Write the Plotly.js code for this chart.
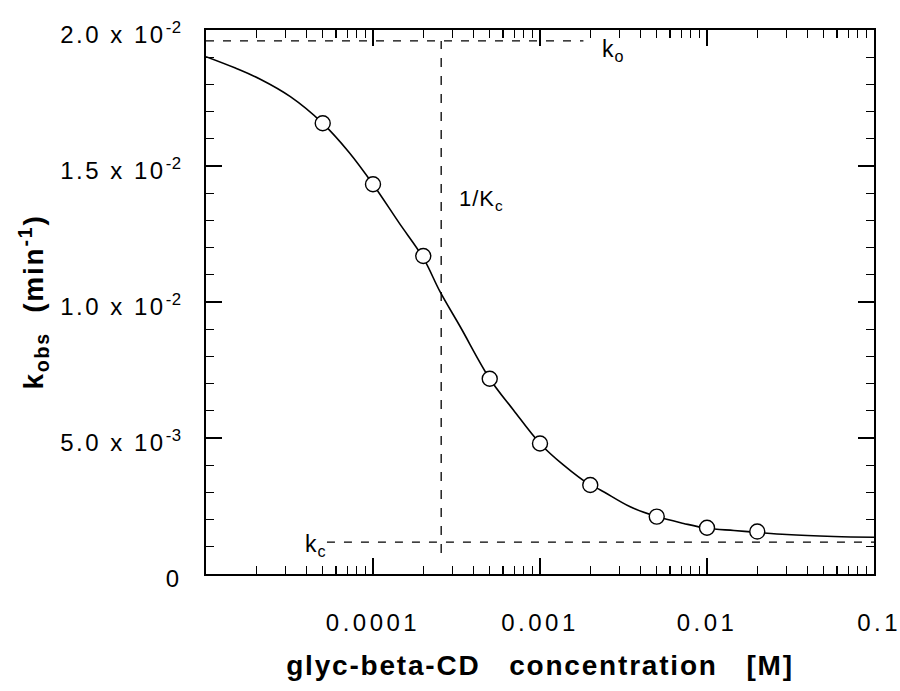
<!DOCTYPE html>
<html>
<head>
<meta charset="utf-8">
<script src="https://cdn.plot.ly/plotly-3.0.1.min.js"></script>
<style>
  html, body { margin: 0; padding: 0; background: #fff; }
  #chart { width: 900px; height: 691px; }
  .xtick text { letter-spacing: 3.5px; }
  .ytick text { letter-spacing: 2.5px; translate: 0 5px; }
  .ytick text tspan { letter-spacing: 0.5px; }
  text.xtitle, text.ytitle { letter-spacing: 1.8px; }
  .annotation-text { letter-spacing: 1px; }
</style>
</head>
<body>
<div id="chart"></div>
<script>
// ---- data ----
const concentration = [5e-5, 1e-4, 2e-4, 5e-4, 1e-3, 2e-3, 5e-3, 1e-2, 2e-2];   // M
const kObs = [0.01657, 0.01433, 0.01169, 0.00718, 0.00480, 0.00327, 0.00211, 0.00170, 0.00156]; // min^-1

// fitted curve
const fitX = [1e-5, 1.5e-5, 2.1e-5, 3.2e-5, 5e-5, 7.2e-5, 1e-4, 1.44e-4, 2e-4, 2.52e-4, 3.33e-4, 5e-4,
              6.93e-4, 1e-3, 1.38e-3, 2e-3, 2.3e-3, 3.47e-3, 5e-3, 7.24e-3, 1e-2, 1.45e-2, 2e-2, 3e-2, 5.75e-2, 0.1];
const fitY = [0.01902, 0.01860, 0.01820, 0.01755, 0.01657, 0.01550, 0.01433, 0.01289, 0.01162, 0.01038, 0.00909, 0.00718,
              0.00603, 0.00480, 0.00401, 0.00327, 0.00309, 0.00247, 0.00211, 0.00186, 0.00168, 0.00160, 0.00153, 0.00145, 0.00138, 0.00135];

// reference levels
const k0 = 0.0196;
const kc = 0.00117;
const invKc = 2.56e-4;
const k0LineX = [1e-5, 1.82e-3];
const kcLineX = [5.3e-5, 0.1];
const invKcLineY = [0.00077, k0];

// tick labels
const xTickVals = [1e-5, 1e-4, 1e-3, 1e-2, 1e-1];
const xTickText = ["", "0.0001", "0.001", "0.01", "\u00a00.1"];
const yTickVals = [0, 0.005, 0.01, 0.015, 0.02];
const yTickText = ["0", "5.0 x 10<sup>-3</sup>", "1.0 x 10<sup>-2</sup>", "1.5 x 10<sup>-2</sup>", "2.0 x 10<sup>-2</sup>"];
const decades = [1e-5, 1e-4, 1e-3, 1e-2];
const minorMult = [2, 3, 4, 5, 6, 7, 8, 9];
const xMinor = [];
decades.forEach(d => minorMult.forEach(m => xMinor.push(m * d)));
const yMinorStep = 0.001;
const yMinor = [];
for (let i = 1; i < 20; i++) yMinor.push(i * yMinorStep);

const FONT = "Liberation Sans, Arial, Helvetica, sans-serif";

const dashStyle = {color: "black", width: 1.3, dash: "8px,9px"};

const traces = [
  {x: k0LineX, y: [k0, k0], mode: "lines", line: dashStyle, hoverinfo: "skip", showlegend: false},
  {x: kcLineX, y: [kc, kc], mode: "lines", line: dashStyle, hoverinfo: "skip", showlegend: false},
  {x: [invKc, invKc], y: invKcLineY, mode: "lines", line: {color: "black", width: 1.3, dash: "9px,9px"}, hoverinfo: "skip", showlegend: false},
  {x: fitX, y: fitY, mode: "lines", line: {color: "black", width: 1.6, shape: "spline", smoothing: 1}, showlegend: false},
  {x: concentration, y: kObs, mode: "markers",
   marker: {symbol: "circle", size: 15, color: "white", line: {color: "black", width: 1.4}}, showlegend: false},
  // empty trace so that the mirrored (top / right) tick axes are drawn
  {x: [], y: [], xaxis: "x2", yaxis: "y2", mode: "markers", showlegend: false, hoverinfo: "skip"}
];

const tickCommon = {
  ticks: "inside", ticklen: 16, tickwidth: 1.3, tickcolor: "black",
  showline: true, linewidth: 1.6, linecolor: "black",
  showgrid: false, zeroline: false, automargin: false
};
const xMinorSpec = {tickmode: "array", tickvals: xMinor, ticks: "inside", ticklen: 8, tickwidth: 1.1, tickcolor: "black", showgrid: false};
const yMinorSpec = {tickmode: "array", tickvals: yMinor, ticks: "inside", ticklen: 8, tickwidth: 1.1, tickcolor: "black", showgrid: false};

const layout = {
  width: 900, height: 691,
  margin: {l: 206, r: 26, t: 30, b: 117},
  paper_bgcolor: "white", plot_bgcolor: "white",
  font: {family: FONT, color: "black"},
  showlegend: false,
  xaxis: Object.assign({}, tickCommon, {
    type: "log", range: [-5, -1],
    tickmode: "array", tickvals: xTickVals, ticktext: xTickText,
    minor: xMinorSpec,
    tickfont: {family: FONT, size: 24, color: "black"},
    ticklabelstandoff: 27,
    ticklabeloverflow: "allow",
    title: {text: "glyc-beta-CD\u00a0\u00a0\u00a0concentration\u00a0\u00a0\u00a0[M]",
            font: {family: FONT, size: 28, weight: "bold", color: "black"}, standoff: 20}
  }),
  yaxis: Object.assign({}, tickCommon, {
    range: [0, 0.02],
    tickmode: "array", tickvals: yTickVals, ticktext: yTickText,
    minor: yMinorSpec,
    tickfont: {family: FONT, size: 24, color: "black"},
    ticklabelstandoff: 18,
    ticklabeloverflow: "allow",
    title: {text: "k<sub>obs</sub>\u00a0\u00a0(min<sup>-1</sup>)",
            font: {family: FONT, size: 28, weight: "bold", color: "black"}, standoff: 8}
  }),
  xaxis2: Object.assign({}, tickCommon, {
    type: "log", range: [-5, -1], overlaying: "x", side: "top", anchor: "y",
    tickmode: "array", tickvals: xTickVals, showticklabels: false,
    minor: xMinorSpec
  }),
  yaxis2: Object.assign({}, tickCommon, {
    range: [0, 0.02], overlaying: "y", side: "right", anchor: "x",
    tickmode: "array", tickvals: yTickVals, showticklabels: false,
    minor: yMinorSpec
  }),
  annotations: [
    {x: Math.log10(2.3e-3), y: 0.01925, xref: "x", yref: "y", text: "k<sub>o</sub>", showarrow: false,
     xanchor: "left", yanchor: "middle", font: {family: FONT, size: 23, color: "black"}},
    {x: Math.log10(3.81e-5), y: 0.00103, xref: "x", yref: "y", text: "k<sub>c</sub>", showarrow: false,
     xanchor: "left", yanchor: "middle", font: {family: FONT, size: 23, color: "black"}},
    {x: Math.log10(3.19e-4), y: 0.01375, xref: "x", yref: "y", text: "1/K<sub>c</sub>", showarrow: false,
     xanchor: "left", yanchor: "middle", font: {family: FONT, size: 22, color: "black"}}
  ]
};

Plotly.newPlot("chart", traces, layout, {displayModeBar: false, staticPlot: true});
</script>
</body>
</html>
